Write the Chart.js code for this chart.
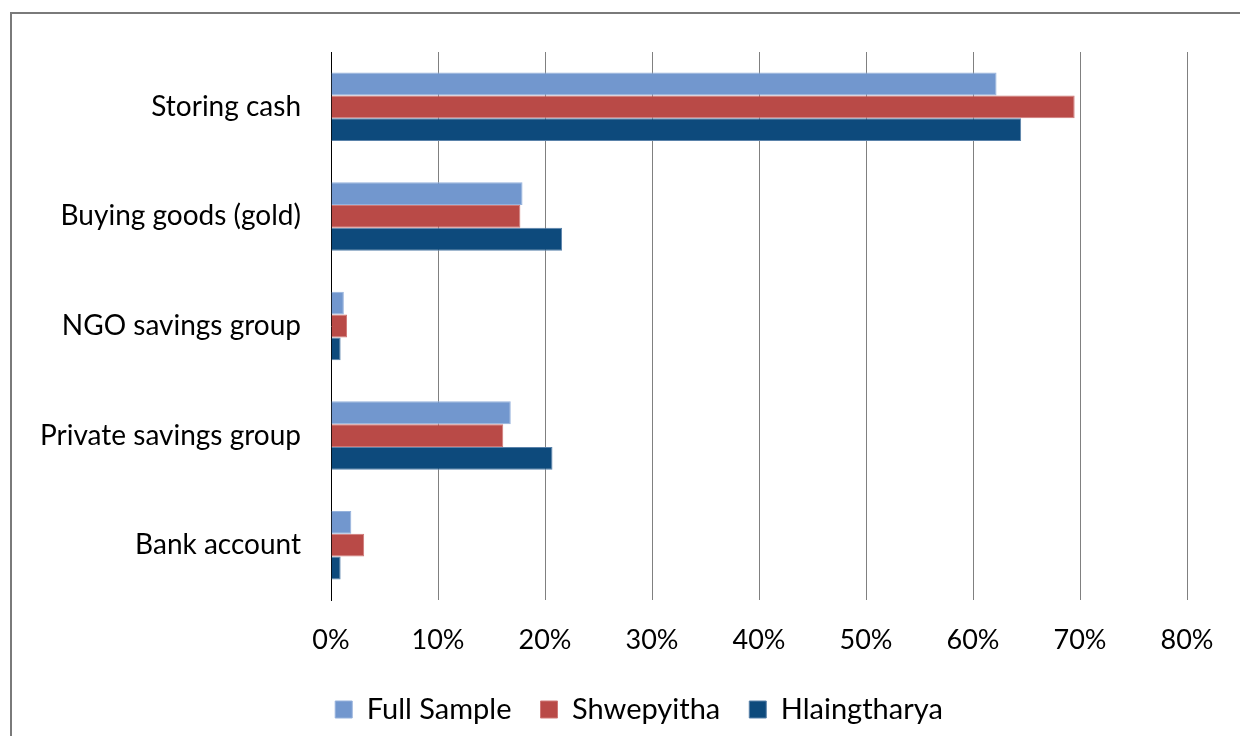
<!DOCTYPE html>
<html>
<head>
<meta charset="utf-8">
<script src="https://cdn.jsdelivr.net/npm/chart.js@4/dist/chart.umd.min.js"></script>
<style>
  html, body { margin: 0; padding: 0; background: #fff; }
  #wrap { position: relative; width: 1240px; height: 736px; overflow: hidden; }
  #frame { position: absolute; left: 10px; top: 12px; width: 1300px; height: 800px;
           border-left: 2px solid #7a7a7a; border-top: 2px solid #7a7a7a; }
  #chart { position: absolute; left: 0; top: 0; }
</style>
</head>
<body>
<div id="wrap">
  <div id="frame"></div>
  <canvas id="chart" width="1240" height="736"></canvas>
</div>
<script>
// categories, top to bottom
var categories = ["Storing cash", "Buying goods (gold)", "NGO savings group", "Private savings group", "Bank account"];

// share of respondents, percent
var fullSample   = [62.2, 17.9, 1.2, 16.8, 1.9];
var shwepyitha   = [69.5, 17.7, 1.5, 16.1, 3.1];
var hlaingtharya = [64.5, 21.6, 0.9, 20.7, 0.9];

var seriesNames = ["Full Sample", "Shwepyitha", "Hlaingtharya"];
var tickMax = 80;
var tickStep = 10;

var fontFamily = "Lato, 'Open Sans', sans-serif";

var chartView = document.getElementById("chart");
var chart = new Chart(chartView, {
    type: 'bar',
    data: {
        labels: categories,
        datasets: [{
            label: seriesNames[0],
            data: fullSample,
            backgroundColor: 'rgb(114, 151, 206)',
            borderColor: 'rgb(150, 178, 220)',
            borderWidth: 1
        }, {
            label: seriesNames[1],
            data: shwepyitha,
            backgroundColor: 'rgb(185, 74, 71)',
            borderColor: 'rgb(208, 120, 118)',
            borderWidth: 1
        }, {
            label: seriesNames[2],
            data: hlaingtharya,
            backgroundColor: 'rgb(13, 74, 124)',
            borderColor: 'rgb(90, 130, 170)',
            borderWidth: 1
        }]
    },
    options: {
        indexAxis: 'y',
        responsive: false,
        animation: false,
        devicePixelRatio: 1,
        layout: { padding: { top: 52, right: 0, left: 38, bottom: 2 } },
        datasets: {
            bar: { categoryPercentage: 0.625, barPercentage: 1.0 }
        },
        plugins: {
            tooltip: { enabled: false },
            legend: {
                position: 'bottom',
                labels: {
                    boxWidth: 17,
                    boxHeight: 17,
                    padding: 29,
                    color: '#000',
                    font: { family: fontFamily, size: 29 }
                }
            }
        },
        scales: {
            x: {
                min: 0,
                max: tickMax,
                ticks: {
                    stepSize: tickStep,
                    padding: 24,
                    color: '#000',
                    font: { family: fontFamily, size: 27 },
                    callback: function(v) { return v + '%'; }
                },
                grid: {
                    color: function(ctx) { return ctx.index === 0 ? 'rgba(0,0,0,0)' : '#808080'; },
                    lineWidth: 1,
                    drawTicks: false
                },
                border: { display: false },
                afterFit: function(scale) {
                    scale.height = 66;
                    scale.paddingRight = 53;
                }
            },
            y: {
                ticks: {
                    padding: 30,
                    color: '#000',
                    font: { family: fontFamily, size: 28 }
                },
                grid: { display: false, drawTicks: false },
                border: { display: true, color: '#000', width: 1 },
                afterFit: function(scale) { scale.width = 293; }
            }
        }
    }
});
</script>
</body>
</html>
